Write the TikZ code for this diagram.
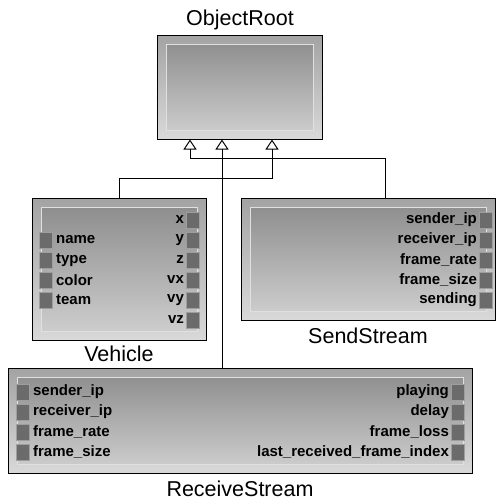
\documentclass[tikz,border=0pt]{standalone}
\usepackage{fontspec}
\setmainfont{Liberation Sans}
\usetikzlibrary{arrows.meta,positioning}

\begin{document}
\begin{tikzpicture}[x=1pt,y=-1pt,
  classbox/.style={rectangle,draw=black,line width=1pt,inner sep=0pt,
    top color=black!36,bottom color=black!15,
    path picture={
      \shade[top color=black!46,bottom color=black!18,draw=black!12,line width=0.9pt]
        ([shift={(9pt,-9pt)}]path picture bounding box.north west) rectangle
        ([shift={(-9pt,9pt)}]path picture bounding box.south east);}},
  title/.style={font=\fontsize{21.5}{22}\selectfont,inner sep=0pt},
  port/.style={rectangle,inner sep=0pt,minimum width=13pt,minimum height=16pt,
    fill=black!58,draw=black!38,line width=0.8pt},
  attr/.style={font=\fontsize{15}{15}\selectfont\bfseries,inner sep=0pt},
  isa/.style={line width=1pt,-{Triangle[open,length=10pt,width=13pt,line width=1pt]}}]
  \useasboundingbox (0,0) rectangle (497,501);

  \node[classbox,minimum width=165pt,minimum height=104pt] (root) at (239.5,87) {};
  \node[title] (rootname) at (240,20) {ObjectRoot};

  \node[classbox,minimum width=174pt,minimum height=142pt] (veh) at (119,269) {};
  \node[title,below=5pt of veh] (vehname) {Vehicle};

  \node[classbox,minimum width=254pt,minimum height=122pt] (send) at (368,259) {};
  \node[title,below=7pt of send] (sendname) {SendStream};

  \node[classbox,minimum width=464pt,minimum height=105pt] (recv) at (240,420.5) {};
  \node[title,below=7pt of recv] (recvname) {ReceiveStream};

  % Vehicle attributes
  \foreach \a [count=\i] in {x,y,z,vx,vy,vz} {
    \node[port] (veh-out-\i) at (193,{200+20*\i}) {};
    \node[attr,left=2pt of veh-out-\i] {\a};
  }
  \foreach \a [count=\i] in {name,type,color,team} {
    \node[port] (veh-in-\i) at (46,{220+20*\i}) {};
    \node[attr,right=3pt of veh-in-\i] {\a};
  }

  % SendStream attributes
  \foreach \a [count=\i] in {sender\_ip,receiver\_ip,frame\_rate,frame\_size,sending} {
    \node[port] (send-out-\i) at (486,{200+20*\i}) {};
    \node[attr,left=2pt of send-out-\i] {\a};
  }

  % ReceiveStream attributes
  \foreach \a [count=\i] in {sender\_ip,receiver\_ip,frame\_rate,frame\_size} {
    \node[port] (recv-in-\i) at (23,{372+20*\i}) {};
    \node[attr,right=3pt of recv-in-\i] {\a};
  }
  \foreach \a [count=\i] in {playing,delay,frame\_loss,last\_received\_frame\_index} {
    \node[port] (recv-out-\i) at (458,{372+20*\i}) {};
    \node[attr,left=2pt of recv-out-\i] {\a};
  }

  % inheritance
  \coordinate (inS) at ([xshift=-49.5pt]root.south);
  \coordinate (inR) at ([xshift=-17.5pt]root.south);
  \coordinate (inV) at ([xshift=32.5pt]root.south);
  \coordinate (outS) at ([xshift=17pt]send.north);
  \draw[isa] (outS) |- ([yshift=-19pt]inS) -- (inS);
  \draw[isa] (veh.north) |- ([yshift=-39pt]inV) -- (inV);
  \draw[isa] (recv.north -| inR) -- (inR);

\end{tikzpicture}
\end{document}
